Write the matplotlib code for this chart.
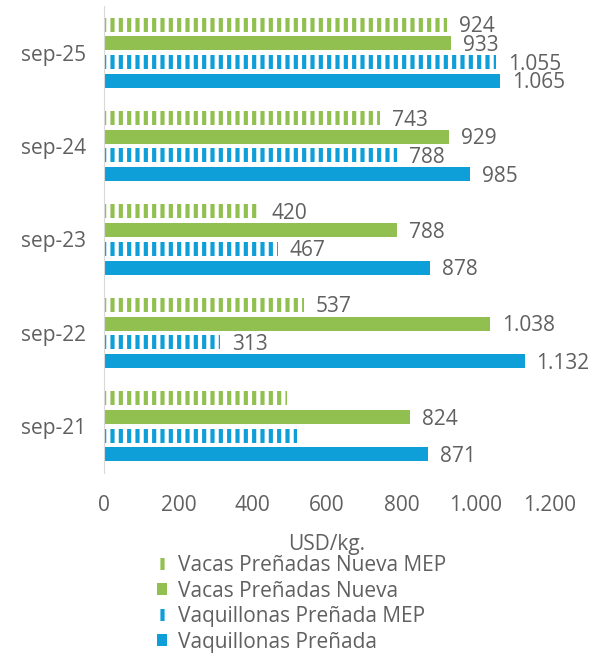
import numpy as np
import matplotlib.pyplot as plt
from matplotlib.patches import Patch

# === datos ===
periods = ["sep-21", "sep-22", "sep-23", "sep-24", "sep-25"]
vaq = [871, 1132, 878, 985, 1065]
vaq_mep = [518, 313, 467, 788, 1055]
vacas = [824, 1038, 788, 929, 933]
vacas_mep = [492, 537, 420, 743, 924]
# etiquetas visibles (las de sep-21 MEP no aparecen en el original)
show_vaq_mep = [False, True, True, True, True]
show_vacas_mep = [False, True, True, True, True]

x_ticks = [0, 200, 400, 600, 800, 1000, 1200]

GREEN = "#92C050"
BLUE = "#0E9ED8"
GRAY = "#606060"

plt.rcParams['font.family'] = ['Open Sans', 'DejaVu Sans']
plt.rcParams['hatch.linewidth'] = 3.0


def fmt(v):
    return f"{v:,.0f}".replace(",", ".")


fig = plt.figure(figsize=(5.99, 6.54), dpi=100)
ax = fig.add_axes([104 / 599, 1 - 473 / 654, 446 / 599, 467 / 654])

y = np.arange(len(periods))
h = 0.15

series = [
    ("Vaquillonas Preñada", vaq, BLUE, False, -0.3, [True] * 5),
    ("Vaquillonas Preñada MEP", vaq_mep, BLUE, True, -0.1, show_vaq_mep),
    ("Vacas Preñadas Nueva", vacas, GREEN, False, 0.1, [True] * 5),
    ("Vacas Preñadas Nueva MEP", vacas_mep, GREEN, True, 0.3, show_vacas_mep),
]

handles = []
for name, vals, col, hatched, off, show in series:
    if hatched:
        bars = ax.barh(y + off, vals, height=h, facecolor="white", edgecolor=col,
                       hatch="||", linewidth=0)
        handles.append(Patch(facecolor="white", edgecolor=col, hatch="||", linewidth=0, label=name))
    else:
        bars = ax.barh(y + off, vals, height=h, color=col, linewidth=0)
        handles.append(Patch(facecolor=col, linewidth=0, label=name))
    for b, v, s in zip(bars, vals, show):
        if s:
            ax.annotate(fmt(v), (v, b.get_y() + b.get_height() / 2),
                        xytext=(8.5, -1.5), textcoords="offset points",
                        ha="left", va="center", fontsize=15, color=GRAY)

ax.set_xlim(0, 1200)
ax.set_ylim(-0.5, 4.5)
ax.set_xticks(x_ticks)
ax.set_xticklabels([fmt(t) for t in x_ticks])
ax.set_yticks(y)
ax.set_yticklabels(periods)
ax.tick_params(axis="both", length=0, labelsize=15, colors=GRAY)
ax.tick_params(axis="y", pad=13)
ax.tick_params(axis="x", pad=16)
ax.set_xlabel("USD/kg.", fontsize=15, color=GRAY, labelpad=13)

for s in ["top", "right", "bottom"]:
    ax.spines[s].set_visible(False)
ax.spines["left"].set_color("#D9D9D9")

fig.legend(handles=handles[::-1], loc="upper left",
           bbox_to_anchor=(157 / 599, 1 - 555 / 654), frameon=False,
           fontsize=15, labelcolor=GRAY, handlelength=0.5, handleheight=0.5,
           handletextpad=0.5, borderaxespad=0, borderpad=0, labelspacing=0.22)

fig.savefig("out.png", dpi=100)
